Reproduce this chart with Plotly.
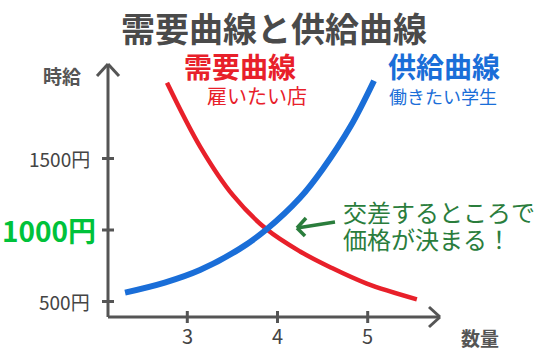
import plotly.graph_objects as go

# ---- data ----
demand_x = [2.775, 3.145, 3.51, 3.88, 4.25, 4.59, 4.99, 5.545]
demand_y = [2030, 1580, 1240, 1005, 850, 738, 625, 515]
supply_x = [2.31, 2.75, 3.14, 3.58, 3.88, 4.25, 4.5, 4.81, 5.07]
supply_y = [562, 632, 720, 868, 1005, 1225, 1425, 1725, 2044]
y_ticks = [500, 1000, 1500]
y_tick_labels = ["500円", "1000円", "1500円"]
x_ticks = [3, 4, 5]
x_tick_labels = ["3", "4", "5"]

W, H = 558, 358
# pixel <-> data mapping (axis ranges chosen so plot covers full figure)
X_PER_PX = 1 / 90.2
Y_PER_PX = 1 / 0.143
x_range = [3 - 187.3 * X_PER_PX, 3 + (W - 187.3) * X_PER_PX]
y_range = [1000 - (H - 230) * Y_PER_PX, 1000 + 230 * Y_PER_PX]

def px(p):
    return x_range[0] + p * X_PER_PX

def py(p):
    return y_range[1] - p * Y_PER_PX

FONT = "Noto Sans CJK JP"
AXIS_C = "#555555"
RED = "#e8202a"
BLUE = "#1a6ed8"
GREEN = "#2a7d3c"

fig = go.Figure()
fig.add_trace(go.Scatter(x=demand_x, y=demand_y, mode="lines",
                         line=dict(color=RED, width=4.5, shape="spline", smoothing=1.0),
                         hoverinfo="skip"))
fig.add_trace(go.Scatter(x=supply_x, y=supply_y, mode="lines",
                         line=dict(color=BLUE, width=6, shape="spline", smoothing=1.0),
                         hoverinfo="skip"))

x0 = px(108)
y0 = py(317)
shapes = []
def seg(xa, ya, xb, yb, color=AXIS_C, w=3):
    shapes.append(dict(type="line", xref="x", yref="y", x0=xa, y0=ya, x1=xb, y1=yb,
                       line=dict(color=color, width=w), layer="below"))

# axes
seg(x0, y0, x0, py(64))
seg(x0, py(64), px(97), py(76))
seg(x0, py(64), px(119), py(76))
seg(x0, y0, px(440), y0)
seg(px(440), y0, px(429), py(307))
seg(px(440), y0, px(429), py(327))
# ticks
for v in y_ticks:
    seg(px(102), v, px(114), v)
for v in x_ticks:
    seg(v, py(311), v, py(323))
# green arrow
seg(px(335), py(222), px(297), py(228), GREEN, 3.5)
seg(px(297), py(228), px(306), py(218), GREEN, 3.5)
seg(px(297), py(228), px(305), py(236), GREEN, 3.5)

ann = []
def text(x, y, t, size, color, bold=False, xanchor="center", xref="x", yref="y"):
    ann.append(dict(x=x, y=y, xref=xref, yref=yref, text=("<b>%s</b>" % t) if bold else t,
                    showarrow=False, xanchor=xanchor, yanchor="middle",
                    font=dict(family=FONT, size=size, color=color)))

for v, lab in zip(y_ticks, y_tick_labels):
    if v == 1000:
        text(px(98), v, lab, 28, "#00c23a", bold=True, xanchor="right")
    else:
        text(px(92), v, lab, 19, "#444444", xanchor="right")
for v, lab in zip(x_ticks, x_tick_labels):
    text(v, py(335), lab, 20, "#444444")

text(px(274), py(27), "需要曲線と供給曲線", 34, "#4a4a4a", bold=True)
text(px(62), py(75), "時給", 19, "#555555", bold=True)
text(px(480), py(337), "数量", 19, "#555555", bold=True)
text(px(240), py(66), "需要曲線", 28, RED, bold=True)
text(px(257), py(95), "雇いたい店", 20, RED)
text(px(444), py(66), "供給曲線", 28, BLUE, bold=True)
text(px(443), py(96), "働きたい学生", 18, BLUE)
text(px(341), py(211), "交差するところで", 24, GREEN, xanchor="left")
text(px(341), py(238), "価格が決まる！", 24, GREEN, xanchor="left")

fig.update_layout(
    width=W, height=H, margin=dict(l=0, r=0, t=0, b=0),
    paper_bgcolor="white", plot_bgcolor="white", showlegend=False,
    xaxis=dict(range=x_range, visible=False, fixedrange=True),
    yaxis=dict(range=y_range, visible=False, fixedrange=True),
    shapes=shapes, annotations=ann,
)
fig.write_html("out.html", config={"displayModeBar": False})
